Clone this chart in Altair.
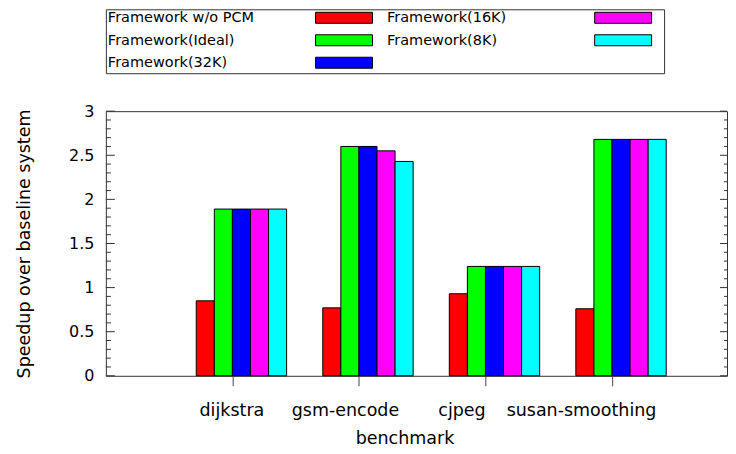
import json
import altair as alt
import pandas as pd

FONT = "DejaVu Sans"

benchmarks = ["dijkstra", "gsm-encode", "cjpeg", "susan-smoothing"]
series = ["Framework w/o PCM", "Framework(Ideal)", "Framework(32K)", "Framework(16K)", "Framework(8K)"]
colors = ["#ff0000", "#00ff00", "#0000ff", "#ff00ff", "#00ffff"]

wo_pcm = [0.85, 0.77, 0.93, 0.76]
ideal = [1.89, 2.60, 1.24, 2.68]
k32 = [1.89, 2.60, 1.24, 2.68]
k16 = [1.89, 2.55, 1.24, 2.68]
k8 = [1.89, 2.43, 1.24, 2.68]

y_major = [0, 0.5, 1, 1.5, 2, 2.5, 3]
y_minor = [0.1, 0.2, 0.3, 0.4, 0.6, 0.7, 0.8, 0.9, 1.1, 1.2, 1.3, 1.4,
           1.6, 1.7, 1.8, 1.9, 2.1, 2.2, 2.3, 2.4, 2.6, 2.7, 2.8, 2.9]

# layout constants
W, H = 622, 265
XMAX = 4.909
label_shift = [-1, -14, -24, -31]

rows = []
for si, (s, vals) in enumerate(zip(series, [wo_pcm, ideal, k32, k16, k8])):
    for bi, (b, v) in enumerate(zip(benchmarks, vals)):
        rows.append({"benchmark": b, "series": s, "value": v, "bi": bi + 1, "si": si})
df = pd.DataFrame(rows)

color_scale = alt.Scale(domain=series, range=colors)
y_scale = alt.Scale(domain=[0, 3], nice=False, zero=True)

y_axis = alt.Axis(
    values=y_major, format="~g", title="Speedup over baseline system",
    ticks=False, tickSize=0, domain=False, grid=False,
    labelFontSize=16, labelPadding=12, labelColor="black",
    titleFontSize=17.5, titleFontWeight="normal", titleAngle=270,
    titleX=-76, titleY=H / 2, titleBaseline="alphabetic", titleAlign="center",
)

label_offset = {
    "condition": [
        {"test": f"datum.value == {i + 1}", "value": off}
        for i, off in enumerate(label_shift)
    ],
    "value": 0,
}

x_axis = alt.Axis(
    values=[1, 2, 3, 4],
    labelExpr=f"{json.dumps(benchmarks)}[datum.value - 1]",
    title="benchmark", tickSize=10, tickColor="#444", domain=False, grid=False,
    labelFontSize=17.5, labelPadding=30, labelBaseline="alphabetic",
    labelFlush=False, labelOverlap=False, labelOffset=label_offset,
    titleFontSize=17.5, titleFontWeight="normal",
    titleX=299, titleY=68, titleBaseline="alphabetic",
)

bars = alt.Chart(df).transform_calculate(
    x0="datum.bi + (datum.si - 2) / 7",
    x1="datum.bi + (datum.si - 1) / 7",
).mark_rect(stroke="#000", strokeWidth=1).encode(
    x=alt.X("x0:Q", scale=alt.Scale(domain=[0, XMAX], nice=False, zero=False), axis=x_axis),
    x2="x1:Q",
    y=alt.Y("value:Q", scale=y_scale, axis=y_axis, stack=None),
    y2=alt.datum(0),
    color=alt.Color("series:N", scale=color_scale, legend=None),
)


def tick_layer(vals, x_start, x_end):
    return alt.Chart(pd.DataFrame({"v": vals})).mark_rule(color="#333", strokeWidth=1).encode(
        y=alt.Y("v:Q", scale=y_scale, axis=y_axis),
        x=alt.value(x_start),
        x2=alt.value(x_end),
    )


main = alt.layer(
    bars,
    tick_layer(y_major, 0, 9),
    tick_layer(y_minor, 0, 5),
    tick_layer(y_major, W - 7, W),
    tick_layer(y_minor, W - 3, W),
).properties(width=W, height=H)

leg_df = pd.DataFrame({
    "series": series,
    "col": [i // 3 for i in range(len(series))],
    "row": [i % 3 for i in range(len(series))],
})
lx = alt.X("col:Q", scale=alt.Scale(domain=[0, 2], nice=False, zero=False), axis=None)
ly = alt.Y("row:Q", scale=alt.Scale(domain=[-0.4, 2.444], reverse=True, nice=False, zero=False), axis=None)

leg_text = alt.Chart(leg_df).mark_text(
    align="left", baseline="middle", dx=2, fontSize=14.5, font=FONT, color="black"
).encode(x=lx, y=ly, text="series:N")

leg_sw = alt.Chart(leg_df).mark_rect(
    xOffset=210, x2Offset=267, yOffset=-6, y2Offset=5, stroke="#000", strokeWidth=1
).encode(
    x=lx, x2="col:Q", y=ly, y2="row:Q",
    color=alt.Color("series:N", scale=color_scale, legend=None),
)

legend = alt.layer(leg_sw, leg_text).properties(width=559, height=64)

chart = alt.vconcat(legend, main, spacing=38, bounds="flush").properties(
    padding={"left": 7, "top": 0, "right": 0, "bottom": 0}
).configure_view(
    stroke="#333", strokeWidth=1
).configure_axis(
    labelFont=FONT, titleFont=FONT, labelColor="black", titleColor="black"
)

chart.save("out.html", embed_options={"renderer": "svg", "actions": False})
